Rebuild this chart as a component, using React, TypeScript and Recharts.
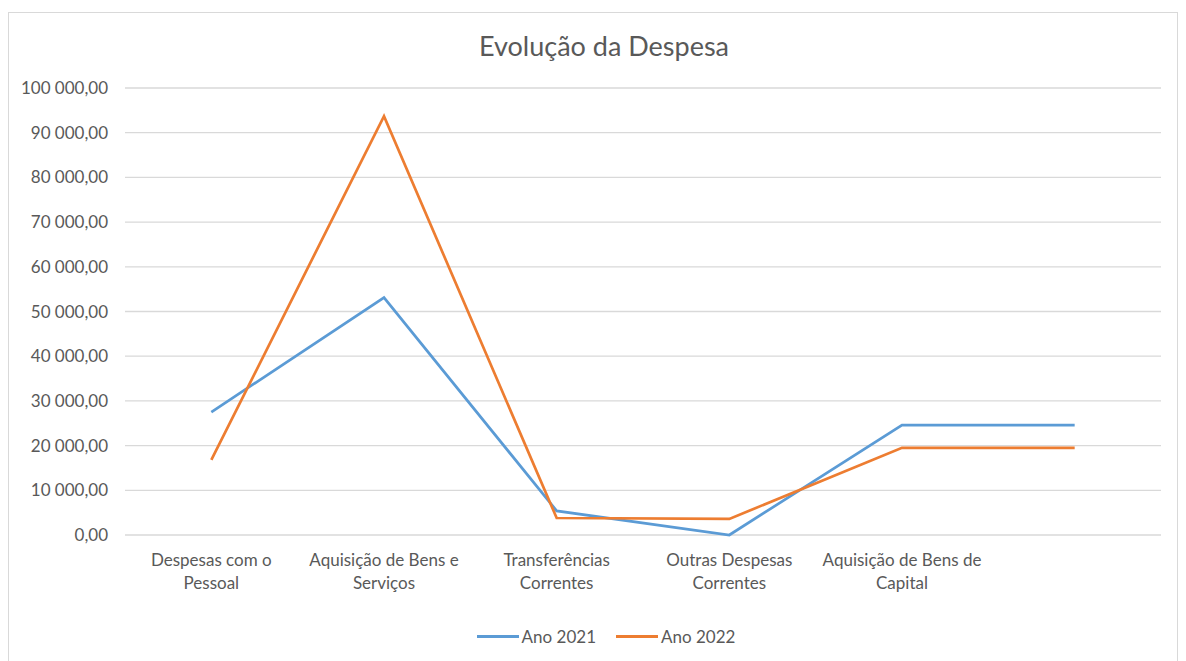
import React from "react";
import {
  LineChart,
  Line,
  XAxis,
  YAxis,
  CartesianGrid,
  Legend,
} from "recharts";

const FONT = "Lato, 'Open Sans', sans-serif";
const TEXT = "#595959";

// last category has no label in the source sheet
const categories = [
  "Despesas com o\nPessoal",
  "Aquisição de Bens e\nServiços",
  "Transferências\nCorrentes",
  "Outras Despesas\nCorrentes",
  "Aquisição de Bens de\nCapital",
  "",
];
const ano2021 = [27500, 53100, 5400, 0, 24600, 24600];
const ano2022 = [16800, 93700, 3800, 3600, 19500, 19500];
const yTicks = [0, 10000, 20000, 30000, 40000, 50000, 60000, 70000, 80000, 90000, 100000];

const data = categories.map((name, i) => ({
  name,
  a2021: ano2021[i],
  a2022: ano2022[i],
}));

const fmt = (v: number) => {
  const s = Math.round(v).toString().replace(/\B(?=(\d{3})+(?!\d))/g, " ");
  return `${s},00`;
};

const XTick = (props: any) => {
  const { x, y, payload } = props;
  const lines = String(payload.value).split("\n");
  return (
    <g>
      {lines.map((l, i) => (
        <text
          key={i}
          x={x}
          y={y + 23 + i * 23}
          textAnchor="middle"
          fill={TEXT}
          fontSize={17}
          fontFamily={FONT}
        >
          {l}
        </text>
      ))}
    </g>
  );
};

const LegendContent = () => (
  <div
    style={{
      display: "flex",
      justifyContent: "center",
      alignItems: "center",
      gap: 20,
      paddingLeft: 42,
      fontFamily: FONT,
      fontSize: 17,
      color: TEXT,
      height: 28,
    }}
  >
    {[
      { label: "Ano 2021", color: "#5b9bd5" },
      { label: "Ano 2022", color: "#ed7d31" },
    ].map((it) => (
      <div key={it.label} style={{ display: "flex", alignItems: "center" }}>
        <span
          style={{
            display: "inline-block",
            width: 42,
            height: 3,
            background: it.color,
            marginRight: 3,
          }}
        />
        {it.label}
      </div>
    ))}
  </div>
);

export default function App() {
  return (
    <div
      style={{
        position: "relative",
        marginTop: 4,
        width: 1168,
        height: 662,
        border: "1px solid #d9d9d9",
        background: "#fff",
      }}
    >
      <div
        style={{
          position: "absolute",
          top: 16,
          left: 22,
          right: 0,
          textAlign: "center",
          fontFamily: FONT,
          fontSize: 27,
          color: TEXT,
        }}
      >
        Evolução da Despesa
      </div>
      <LineChart
        width={1168}
        height={650}
        data={data}
        margin={{ top: 75, right: 16, bottom: 13, left: 0 }}
      >
        <CartesianGrid vertical={false} stroke="#d9d9d9" strokeWidth={1.3} />
        <XAxis
          dataKey="name"
          scale="band"
          axisLine={false}
          tickLine={false}
          interval={0}
          height={87}
          tick={<XTick />}
        />
        <YAxis
          width={116}
          domain={[0, 100000]}
          ticks={yTicks}
          tickFormatter={fmt}
          axisLine={false}
          tickLine={false}
          tickMargin={11}
          tick={{ fill: TEXT, fontSize: 17, fontFamily: FONT }}
        />
        <Legend verticalAlign="bottom" height={28} content={<LegendContent />} />
        <Line
          dataKey="a2021"
          name="Ano 2021"
          stroke="#5b9bd5"
          strokeWidth={2.7}
          dot={false}
          isAnimationActive={false}
        />
        <Line
          dataKey="a2022"
          name="Ano 2022"
          stroke="#ed7d31"
          strokeWidth={2.7}
          dot={false}
          isAnimationActive={false}
        />
      </LineChart>
    </div>
  );
}
